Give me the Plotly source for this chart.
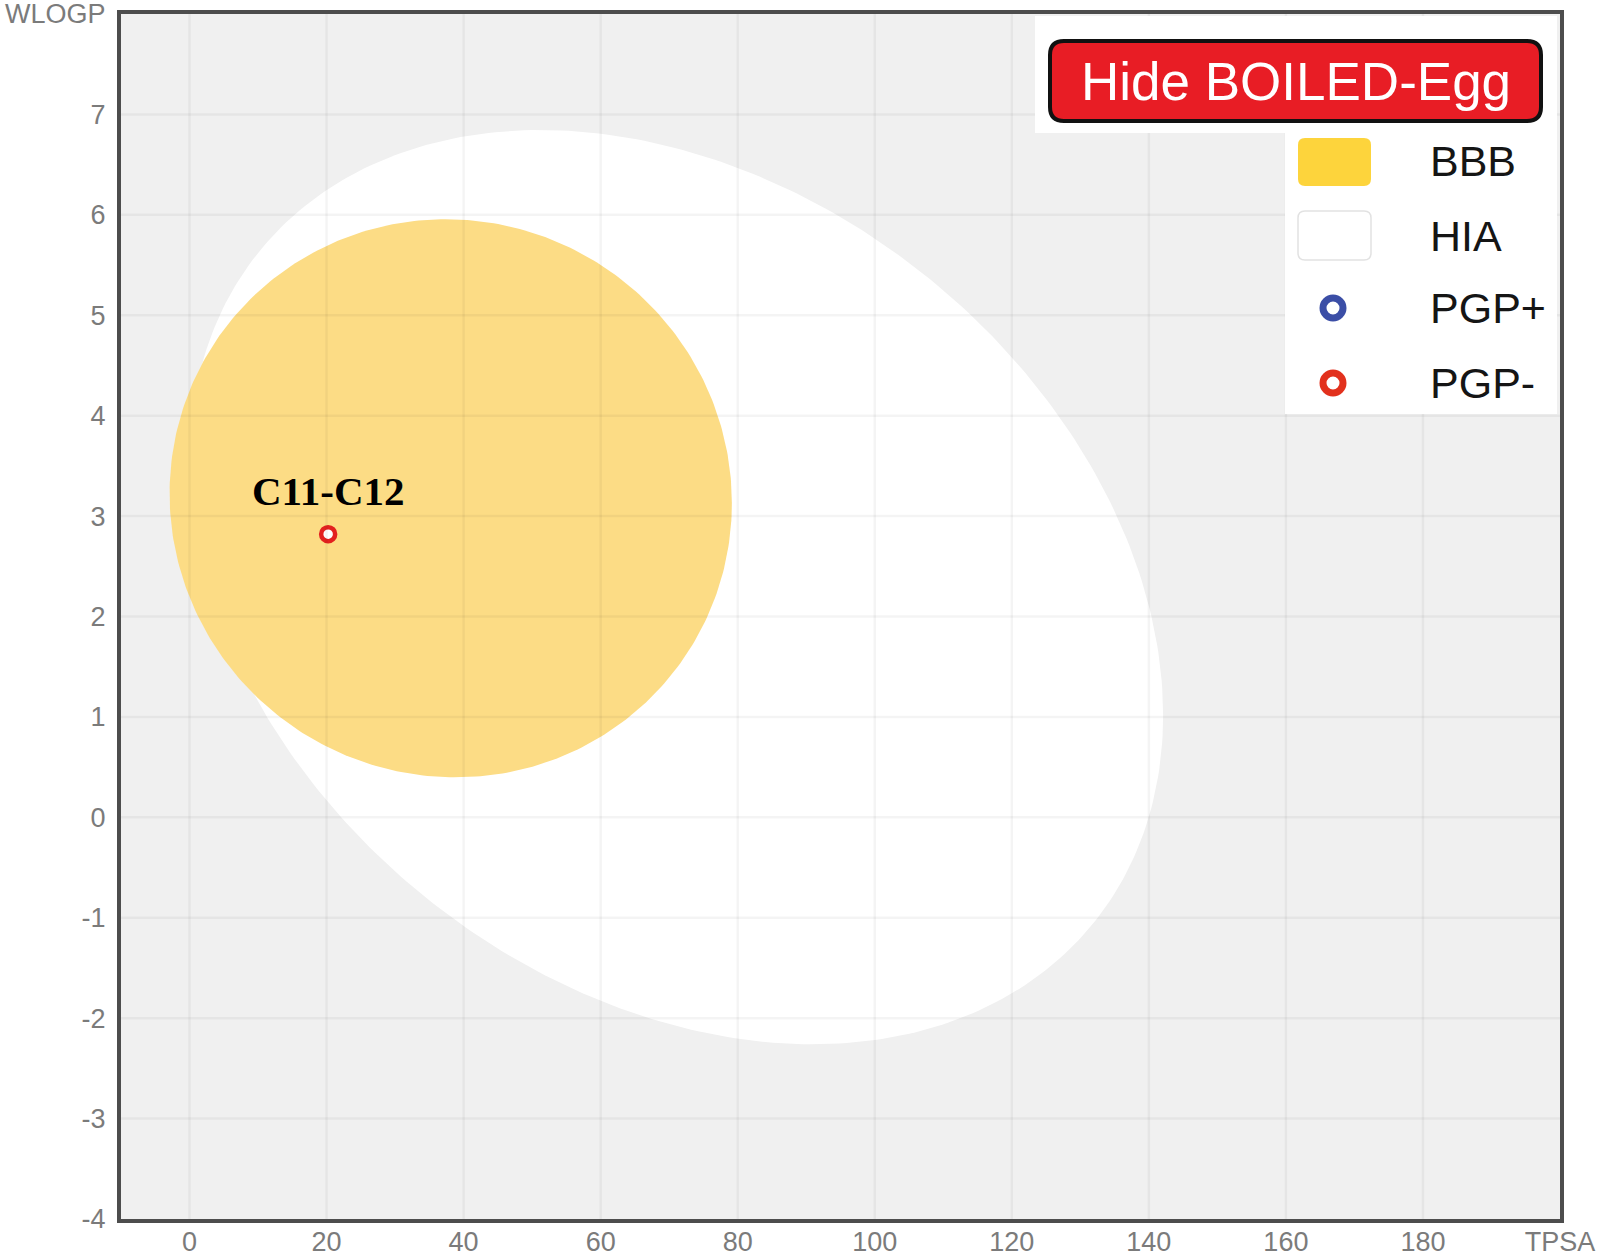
import numpy as np
import plotly.graph_objects as go

# BOILED-Egg ellipses: centre TPSA, centre WLOGP, width, height, angle (deg)
hia_ellipse = [71.051, 2.292, 142.081, 8.740, -1.031325]
bbb_ellipse = [38.117, 3.177, 82.061, 5.557, -0.066920]

# molecules
mol_names = ["C11-C12"]
mol_tpsa = [20.23]
mol_wlogp = [2.82]

# axes
x_ticks = [0, 20, 40, 60, 80, 100, 120, 140, 160, 180, 200]
x_tick_text = ["0", "20", "40", "60", "80", "100", "120", "140", "160", "180", "TPSA"]
y_ticks = [-4, -3, -2, -1, 0, 1, 2, 3, 4, 5, 6, 7, 8]
y_tick_text = ["-4", "-3", "-2", "-1", "0", "1", "2", "3", "4", "5", "6", "7", "WLOGP"]

legend_labels = ["BBB", "HIA", "PGP+", "PGP-"]
button_text = "Hide BOILED-Egg"

W, H = 1602, 1255
PL, PR, PT, PB = 121, 1560, 14, 1219
TICK_FONT = dict(family="Liberation Sans, Arial", size=27, color="#7b7b7b")


def ellipse_xy(cx, cy, w, h, angle_deg, n=400):
    t = np.linspace(0, 2 * np.pi, n)
    a = np.radians(angle_deg)
    ex, ey = w / 2 * np.cos(t), h / 2 * np.sin(t)
    return cx + ex * np.cos(a) - ey * np.sin(a), cy + ex * np.sin(a) + ey * np.cos(a)


def px(x):
    return (x - PL) / (PR - PL)


def py(y):
    return (PB - y) / (PB - PT)


def rounded_rect(x0, y0, x1, y1, r):
    return (f"M {px(x0 + r)},{py(y0)} L {px(x1 - r)},{py(y0)} "
            f"Q {px(x1)},{py(y0)} {px(x1)},{py(y0 + r)} L {px(x1)},{py(y1 - r)} "
            f"Q {px(x1)},{py(y1)} {px(x1 - r)},{py(y1)} L {px(x0 + r)},{py(y1)} "
            f"Q {px(x0)},{py(y1)} {px(x0)},{py(y1 - r)} L {px(x0)},{py(y0 + r)} "
            f"Q {px(x0)},{py(y0)} {px(x0 + r)},{py(y0)} Z")


fig = go.Figure()

hx, hy = ellipse_xy(*hia_ellipse)
fig.add_trace(go.Scatter(x=hx, y=hy, mode="lines", fill="toself",
                         fillcolor="#ffffff", line=dict(width=0),
                         hoverinfo="skip", showlegend=False))
bx, by = ellipse_xy(*bbb_ellipse)
fig.add_trace(go.Scatter(x=bx, y=by, mode="lines", fill="toself",
                         fillcolor="#fcdc85", line=dict(width=0),
                         hoverinfo="skip", showlegend=False))

fig.add_trace(go.Scatter(x=mol_tpsa, y=mol_wlogp, mode="markers",
                         marker=dict(size=14, color="white",
                                     line=dict(color="#e3211f", width=4.5)),
                         text=mol_names, showlegend=False))

for name, xv, yv in zip(mol_names, mol_tpsa, mol_wlogp):
    fig.add_annotation(x=xv, y=yv, text=f"<b>{name}</b>", showarrow=False,
                       yshift=43, xanchor="center", yanchor="middle",
                       font=dict(family="Liberation Serif, Times New Roman",
                                 size=41, color="black"))

shapes = []
# faint grid drawn over the egg
for xv in x_ticks[:-1]:
    shapes.append(dict(type="line", xref="x", yref="paper", x0=xv, x1=xv,
                       y0=0, y1=1, layer="above",
                       line=dict(color="rgba(0,0,0,0.045)", width=2.5)))
for yv in y_ticks[1:-1]:
    shapes.append(dict(type="line", xref="paper", yref="y", x0=0, x1=1,
                       y0=yv, y1=yv, layer="above",
                       line=dict(color="rgba(0,0,0,0.045)", width=2.5)))

# legend panel
shapes.append(dict(type="rect", xref="paper", yref="paper",
                   x0=px(1035), x1=px(1557), y0=py(16), y1=py(133),
                   fillcolor="white", line=dict(width=0), layer="above"))
shapes.append(dict(type="rect", xref="paper", yref="paper",
                   x0=px(1285), x1=px(1557), y0=py(133), y1=py(414),
                   fillcolor="white", line=dict(width=0), layer="above"))
shapes.append(dict(type="path", xref="paper", yref="paper",
                   path=rounded_rect(1050, 41, 1541, 121, 14),
                   fillcolor="#e81d25", line=dict(color="#111111", width=4),
                   layer="above"))
shapes.append(dict(type="path", xref="paper", yref="paper",
                   path=rounded_rect(1298, 138, 1371, 186, 7),
                   fillcolor="#fdd43c", line=dict(width=0), layer="above"))
shapes.append(dict(type="path", xref="paper", yref="paper",
                   path=rounded_rect(1298, 211, 1371, 260, 7),
                   fillcolor="white", line=dict(color="#e2e2e2", width=1.5),
                   layer="above"))
for cy, col in [(308, "#3b4ea6"), (383, "#e2311d")]:
    shapes.append(dict(type="circle", xref="paper", yref="paper",
                       x0=px(1323), x1=px(1343), y0=py(cy - 10), y1=py(cy + 10),
                       fillcolor="white", line=dict(color=col, width=7),
                       layer="above"))

fig.add_annotation(xref="paper", yref="paper", x=px(1296), y=py(81),
                   xanchor="center", yanchor="middle",
                   text=button_text, showarrow=False,
                   font=dict(family="Liberation Sans, Arial", size=53, color="white"))
for label, cy in zip(legend_labels, [161, 236, 308, 383]):
    fig.add_annotation(xref="paper", yref="paper", x=px(1428), y=py(cy),
                       xanchor="left", yanchor="middle", text=label, showarrow=False,
                       font=dict(family="Liberation Sans, Arial", size=43, color="#151515"))

fig.update_layout(
    width=W, height=H,
    margin=dict(l=PL, r=W - PR, t=PT, b=H - PB, autoexpand=False),
    paper_bgcolor="white", plot_bgcolor="#f0f0f0",
    shapes=shapes, showlegend=False,
    xaxis=dict(range=[-10, 200], tickvals=x_ticks, ticktext=x_tick_text,
               showgrid=False, zeroline=False, showline=True, mirror=True,
               linecolor="#4d4d4d", linewidth=4, ticks="", ticklabelstandoff=-4,
               tickfont=TICK_FONT, automargin=False,
               ticklabeloverflow="allow"),
    yaxis=dict(range=[-4, 8], tickvals=y_ticks, ticktext=y_tick_text,
               showgrid=False, zeroline=False, showline=True, mirror=True,
               linecolor="#4d4d4d", linewidth=4, ticks="outside", ticklen=6,
               tickcolor="rgba(0,0,0,0)", tickfont=TICK_FONT, automargin=False,
               ticklabeloverflow="allow"),
)

# page body margin would push the fixed-size figure past the window
fig.write_html("out.html", config={"displayModeBar": False},
               post_script="document.body.style.margin='0';"
                           "document.body.style.overflow='hidden';")
